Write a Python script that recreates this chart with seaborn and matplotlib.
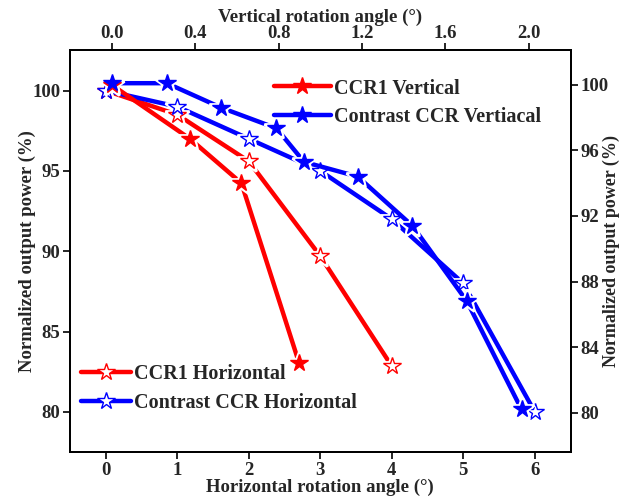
import matplotlib
matplotlib.use("Agg")
import matplotlib.pyplot as plt
import seaborn as sns
import pandas as pd
from matplotlib.lines import Line2D

sns.set_theme(style="white")
plt.rcParams['font.family'] = ['Liberation Serif', 'DejaVu Serif']
plt.rcParams['font.weight'] = 'bold'

# Horizontal rotation (bottom x, left y)
h_angle_ccr1 = [0, 1, 2, 3, 4]
h_power_ccr1 = [100, 98.5, 95.6, 89.7, 82.85]
h_angle_contrast = [0, 1, 2, 3, 4, 5, 6]
h_power_contrast = [100, 99.0, 97.0, 95.0, 92.0, 88.0, 80.0]

# Vertical rotation (top x, right y)
v_angle_ccr1 = [0.0, 0.376, 0.622, 0.898]
v_power_ccr1 = [100.0, 96.7, 94.0, 83.05]
v_angle_contrast = [0.0, 0.264, 0.526, 0.79, 0.922, 1.18, 1.442, 1.703, 1.965]
v_power_contrast = [100.1, 100.1, 98.6, 97.35, 95.3, 94.4, 91.4, 86.8, 80.2]

RED = '#ff0000'
BLUE = '#0000ff'
LW = 3.2
MS = 13

fig = plt.figure(figsize=(6.28, 5.04), dpi=100)
ax = fig.add_axes([0.1115, 0.103, 0.797, 0.797])
ax_r = ax.twinx()
ax_t = ax_r.twiny()

def draw(axis, xs, ys, color, filled):
    df = pd.DataFrame({'x': xs, 'y': ys})
    sns.lineplot(data=df, x='x', y='y', ax=axis, color=color, lw=LW,
                 sort=False, zorder=2, legend=False)
    axis.plot(xs, ys, ls='none', marker='*', ms=MS + 5, mfc='white', mec='white',
              mew=2, zorder=3)
    axis.plot(xs, ys, ls='none', marker='*', ms=MS,
              mfc=color if filled else 'white', mec=color, mew=1.0, zorder=4)

draw(ax, h_angle_ccr1, h_power_ccr1, RED, False)
draw(ax, h_angle_contrast, h_power_contrast, BLUE, False)
draw(ax_t, v_angle_ccr1, v_power_ccr1, RED, True)
draw(ax_t, v_angle_contrast, v_power_contrast, BLUE, True)

ax.set_xlim(-0.5, 6.5)
ax.set_ylim(77.5, 102.5)
ax_r.set_ylim(77.6, 102.1)
ax_t.set_xlim(-0.2, 2.2)

ax.set_xticks([0, 1, 2, 3, 4, 5, 6])
ax.set_yticks([80, 85, 90, 95, 100])
ax_r.set_yticks([80, 84, 88, 92, 96, 100])
ax_t.set_xticks([0.0, 0.4, 0.8, 1.2, 1.6, 2.0])
ax_t.set_xticklabels(['0.0', '0.4', '0.8', '1.2', '1.6', '2.0'])

ax.set_xlabel('Horizontal rotation angle (°)', labelpad=0, fontsize=13.5, fontweight='bold')
ax.set_ylabel('Normalized output power (%)', labelpad=-3, fontsize=13.5, fontweight='bold')
ax_r.set_ylabel('Normalized output power (%)', labelpad=-4, fontsize=13, fontweight='bold')
ax_t.set_xlabel('Vertical rotation angle (°)', labelpad=2.5, fontsize=13.5, fontweight='bold')
ax_t.xaxis.set_label_position('top')

for a in (ax, ax_r, ax_t):
    a.tick_params(direction='out', length=5, width=1.2, labelsize=13.5,
                  color='black', pad=2)
    for lbl in a.get_xticklabels() + a.get_yticklabels():
        lbl.set_fontweight('bold')
    for s in a.spines.values():
        s.set_color('black')
        s.set_linewidth(1.2)
ax.tick_params(axis='x', bottom=True, top=False)
ax.tick_params(axis='y', left=True, right=False)
ax_r.tick_params(axis='y', right=True, left=False)
ax_t.tick_params(axis='x', top=True, bottom=False, pad=1)
ax_r.tick_params(axis='x', bottom=False, top=False, labelbottom=False)

def handle(color, filled):
    return Line2D([0], [0], color=color, lw=LW, marker='*', ms=MS,
                  mfc=color if filled else 'white', mec=color, mew=1.0)

prop = {'family': 'Liberation Serif', 'weight': 'bold', 'size': 14.5}
leg1 = ax_t.legend([handle(RED, True), handle(BLUE, True)],
                   ['CCR1 Vertical', 'Contrast CCR Vertiacal'],
                   loc='upper left', bbox_to_anchor=(0.392, 0.95), frameon=False,
                   prop=prop, handlelength=2.8, handletextpad=0.15,
                   labelspacing=0.4, borderaxespad=0)
leg2 = ax_t.legend([handle(RED, False), handle(BLUE, False)],
                   ['CCR1 Horizontal', 'Contrast CCR Horizontal'],
                   loc='upper left', bbox_to_anchor=(0.005, 0.24), frameon=False,
                   prop=prop, handlelength=2.5, handletextpad=0.15,
                   labelspacing=0.45, borderaxespad=0)
ax_t.add_artist(leg1)

fig.savefig('out.png', dpi=100)
